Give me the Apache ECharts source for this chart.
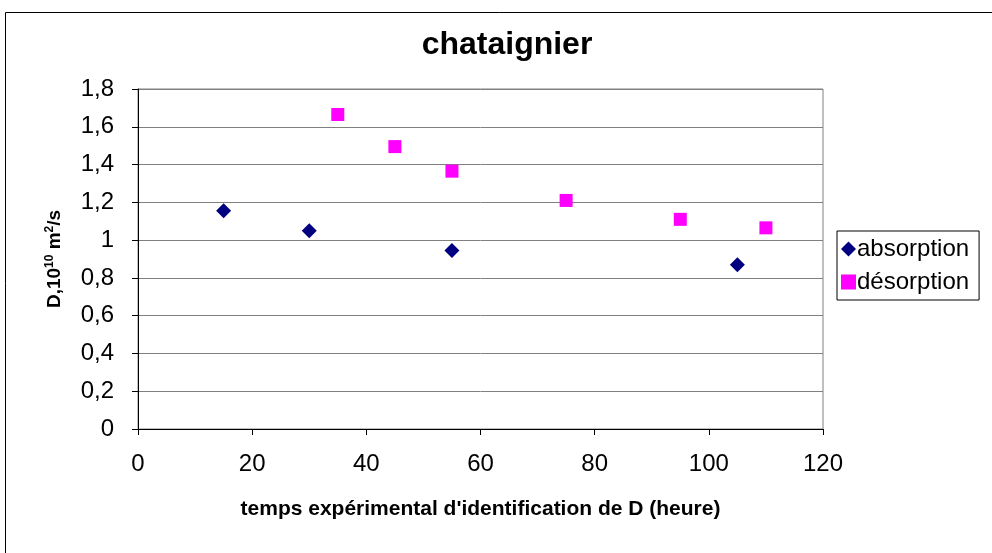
<html>
<head>
<meta charset="UTF-8"/>
<title>chataignier</title>
<script src="https://cdn.jsdelivr.net/npm/echarts@6/dist/echarts.min.js"></script>
</head>
<body style="margin:0;background:#fff;">
<div id="chart" style="width:992px;height:553px;"></div>
<script>
// valeurs (temps en heures, D en 1e-10 m2/s)
var absTemps = [15, 30, 55, 105];
var absD = [1.155, 1.05, 0.945, 0.87];
var desTemps = [35, 45, 55, 75, 95, 110];
var desD = [1.665, 1.495, 1.365, 1.21, 1.11, 1.065];
var seriesNames = ['absorption', 'désorption'];

function pairs(xs, ys){
    return xs.map(function(x, i){ return [x, ys[i]]; });
}

var myChart = echarts.init(document.getElementById('chart'));
var font = 'Liberation Sans, Arial, sans-serif';
var option = {
    backgroundColor: '#fff',
    animation: false,
    title: {
        text: 'chataignier',
        left: 502,
        top: 24,
        textAlign: 'center',
        textStyle: {fontFamily: font, fontSize: 32, fontWeight: 'bold', color: '#000'}
    },
    graphic: [{
        type: 'rect',
        shape: {x: 5.5, y: 12.5, width: 1000, height: 600},
        style: {fill: null, stroke: '#000', lineWidth: 1},
        silent: true
    }],
    legend: {
        orient: 'vertical',
        left: 837,
        top: 231,
        borderColor: '#000',
        borderWidth: 1,
        padding: [6, 10, 6, 4],
        itemGap: 9,
        itemWidth: 15,
        itemHeight: 15,
        textStyle: {fontFamily: font, fontSize: 24, color: '#000', padding: [0, 0, 0, -4]},
        data: [
            {name: seriesNames[0], icon: 'diamond'},
            {name: seriesNames[1], icon: 'rect'}
        ]
    },
    grid: {left: 138, top: 89, right: 169, bottom: 124, show: true, borderColor: '#808080', borderWidth: 1},
    xAxis: {
        type: 'value',
        min: 0, max: 120, interval: 20,
        name: "temps expérimental d'identification de D (heure)",
        nameLocation: 'middle',
        nameGap: 70,
        nameTextStyle: {fontFamily: font, fontSize: 21, fontWeight: 'bold', color: '#000'},
        axisLine: {onZero: false, lineStyle: {color: '#000'}},
        axisTick: {length: 6, lineStyle: {color: '#000'}},
        axisLabel: {fontFamily: font, fontSize: 24, color: '#000', margin: 23},
        splitLine: {show: false}
    },
    yAxis: {
        type: 'value',
        min: 0, max: 1.8, interval: 0.2,
        name: '{b|D,10}{s|10}{b| m}{s|2}{b|/s}',
        nameLocation: 'middle',
        nameGap: 72,
        nameRotate: 90,
        nameTextStyle: {
            rich: {
                b: {fontFamily: font, fontSize: 19, fontWeight: 'bold', color: '#000'},
                s: {fontFamily: font, fontSize: 12, fontWeight: 'bold', color: '#000', verticalAlign: 'top', padding: [0, 0, 10, 0]}
            }
        },
        axisLine: {show: true, lineStyle: {color: '#000'}},
        axisTick: {show: true, length: 6, lineStyle: {color: '#000'}},
        axisLabel: {
            fontFamily: font, fontSize: 24, color: '#000', margin: 24,
            formatter: function(v){ return String(Math.round(v * 10) / 10).replace('.', ','); }
        },
        splitLine: {show: true, lineStyle: {color: '#808080', width: 1}}
    },
    series: [
        {
            name: seriesNames[0],
            type: 'scatter',
            symbol: 'diamond',
            symbolSize: 15,
            itemStyle: {color: '#000080', opacity: 1},
            data: pairs(absTemps, absD)
        },
        {
            name: seriesNames[1],
            type: 'scatter',
            symbol: 'rect',
            symbolSize: 13,
            itemStyle: {color: '#FF00FF', opacity: 1},
            data: pairs(desTemps, desD)
        }
    ]
};
myChart.setOption(option);
</script>
</body>
</html>
